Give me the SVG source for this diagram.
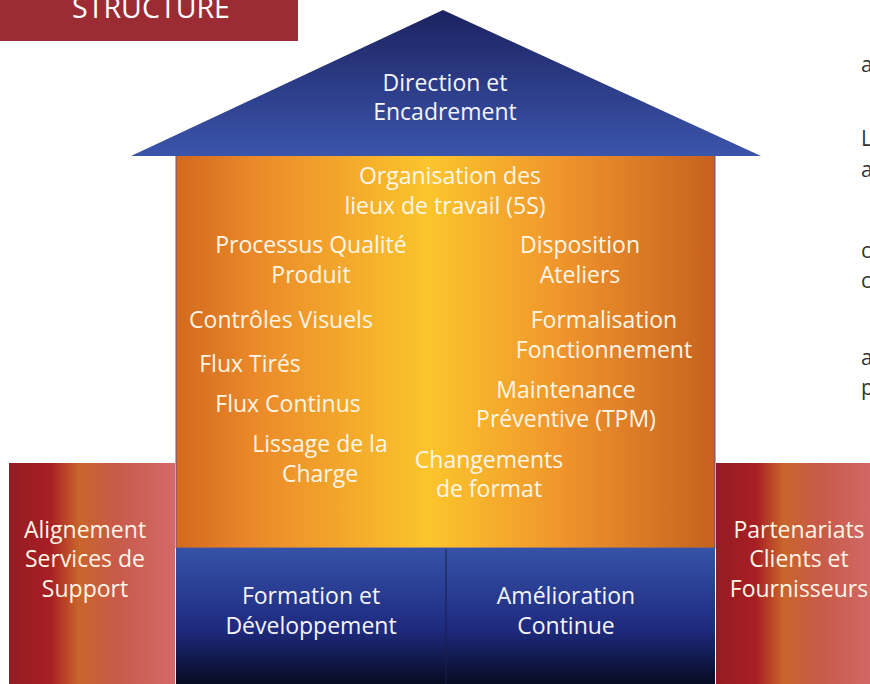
<svg xmlns="http://www.w3.org/2000/svg" width="870" height="684" viewBox="0 0 870 684">
<defs>
<linearGradient id="roofG" x1="0" y1="0" x2="0" y2="1">
<stop offset="0" stop-color="#1c2260"/>
<stop offset="1" stop-color="#3b55ab"/>
</linearGradient>
<linearGradient id="bodyG" x1="0" y1="0" x2="1" y2="0">
<stop offset="0" stop-color="#d2691f"/>
<stop offset="0.15" stop-color="#eb8a2a"/>
<stop offset="0.47" stop-color="#fbc52c"/>
<stop offset="0.72" stop-color="#ef942c"/>
<stop offset="1" stop-color="#c7611f"/>
</linearGradient>
<linearGradient id="baseG" x1="0" y1="0" x2="0" y2="1">
<stop offset="0" stop-color="#3553a8"/>
<stop offset="0.6" stop-color="#1e2a7e"/>
<stop offset="1" stop-color="#070b22"/>
</linearGradient>
<linearGradient id="pillarG" x1="0" y1="0" x2="1" y2="0">
<stop offset="0" stop-color="#931c22"/>
<stop offset="0.25" stop-color="#a81f24"/>
<stop offset="0.42" stop-color="#c9652c"/>
<stop offset="0.65" stop-color="#c85a4a"/>
<stop offset="1" stop-color="#d26a68"/>
</linearGradient>
<style>
.t{font-family:"Open Sans","Noto Sans","Liberation Sans",sans-serif;font-size:23px;fill:#fff6e8;text-anchor:middle}
.w{fill:#f4f4fa}
.frag{font-family:"Open Sans","Noto Sans","Liberation Sans",sans-serif;font-size:21px;fill:#333333}
</style>
</defs>
<g id="header">
<rect x="0" y="0" width="298" height="41" fill="#9b2c33"/>
<text x="151" y="18" textLength="158" lengthAdjust="spacingAndGlyphs" style="font-family:'Open Sans','Liberation Sans',sans-serif;font-size:29px;fill:#ffffff;text-anchor:middle">STRUCTURE</text>
</g>
<g id="fragments">
<text class="frag" x="861" y="72">a</text>
<text class="frag" x="861" y="146">L</text>
<text class="frag" x="861" y="177">a</text>
<text class="frag" x="861" y="258">c</text>
<text class="frag" x="861" y="288">c</text>
<text class="frag" x="861" y="365">a</text>
<text class="frag" x="861" y="395">p</text>
</g>
<g id="pillar-left">
<rect x="9" y="463" width="166" height="221" fill="url(#pillarG)"/>
<text class="t" x="85" y="538">Alignement</text>
<text class="t" x="85" y="567">Services de</text>
<text class="t" x="85" y="597">Support</text>
</g>
<g id="pillar-right">
<rect x="716" y="463" width="160" height="221" fill="url(#pillarG)"/>
<text class="t" x="799" y="538">Partenariats</text>
<text class="t" x="799" y="567">Clients et</text>
<text class="t" x="799" y="597">Fournisseurs</text>
</g>
<g id="body">
<rect x="176" y="155" width="539" height="393" fill="url(#bodyG)" stroke="#5a5a9a" stroke-width="1"/>
<text class="t" x="450" y="184">Organisation des</text>
<text class="t" x="445" y="214">lieux de travail (5S)</text>
<text class="t" x="311" y="253">Processus Qualité</text>
<text class="t" x="311" y="283">Produit</text>
<text class="t" x="580" y="253">Disposition</text>
<text class="t" x="580" y="283">Ateliers</text>
<text class="t" x="281" y="328">Contrôles Visuels</text>
<text class="t" x="604" y="328">Formalisation</text>
<text class="t" x="604" y="358">Fonctionnement</text>
<text class="t" x="250" y="372">Flux Tirés</text>
<text class="t" x="566" y="398">Maintenance</text>
<text class="t" x="566" y="427">Préventive (TPM)</text>
<text class="t" x="288" y="412">Flux Continus</text>
<text class="t" x="320" y="452">Lissage de la</text>
<text class="t" x="320" y="482">Charge</text>
<text class="t" x="489" y="468">Changements</text>
<text class="t" x="489" y="497">de format</text>
</g>
<g id="roof">
<polygon points="443,10 761,156 131,156" fill="url(#roofG)"/>
<text class="t w" x="445" y="91">Direction et</text>
<text class="t w" x="445" y="120">Encadrement</text>
</g>
<g id="base">
<rect x="176" y="548" width="539" height="136" fill="url(#baseG)"/>
<text class="t w" x="311" y="604">Formation et</text>
<text class="t w" x="311" y="634">Développement</text>
<text class="t w" x="566" y="604">Amélioration</text>
<text class="t w" x="566" y="634">Continue</text>
</g>
<g id="connectors">
<line x1="446" y1="549" x2="446" y2="684" stroke="#1a1f4a" stroke-width="1"/>
</g>
</svg>
